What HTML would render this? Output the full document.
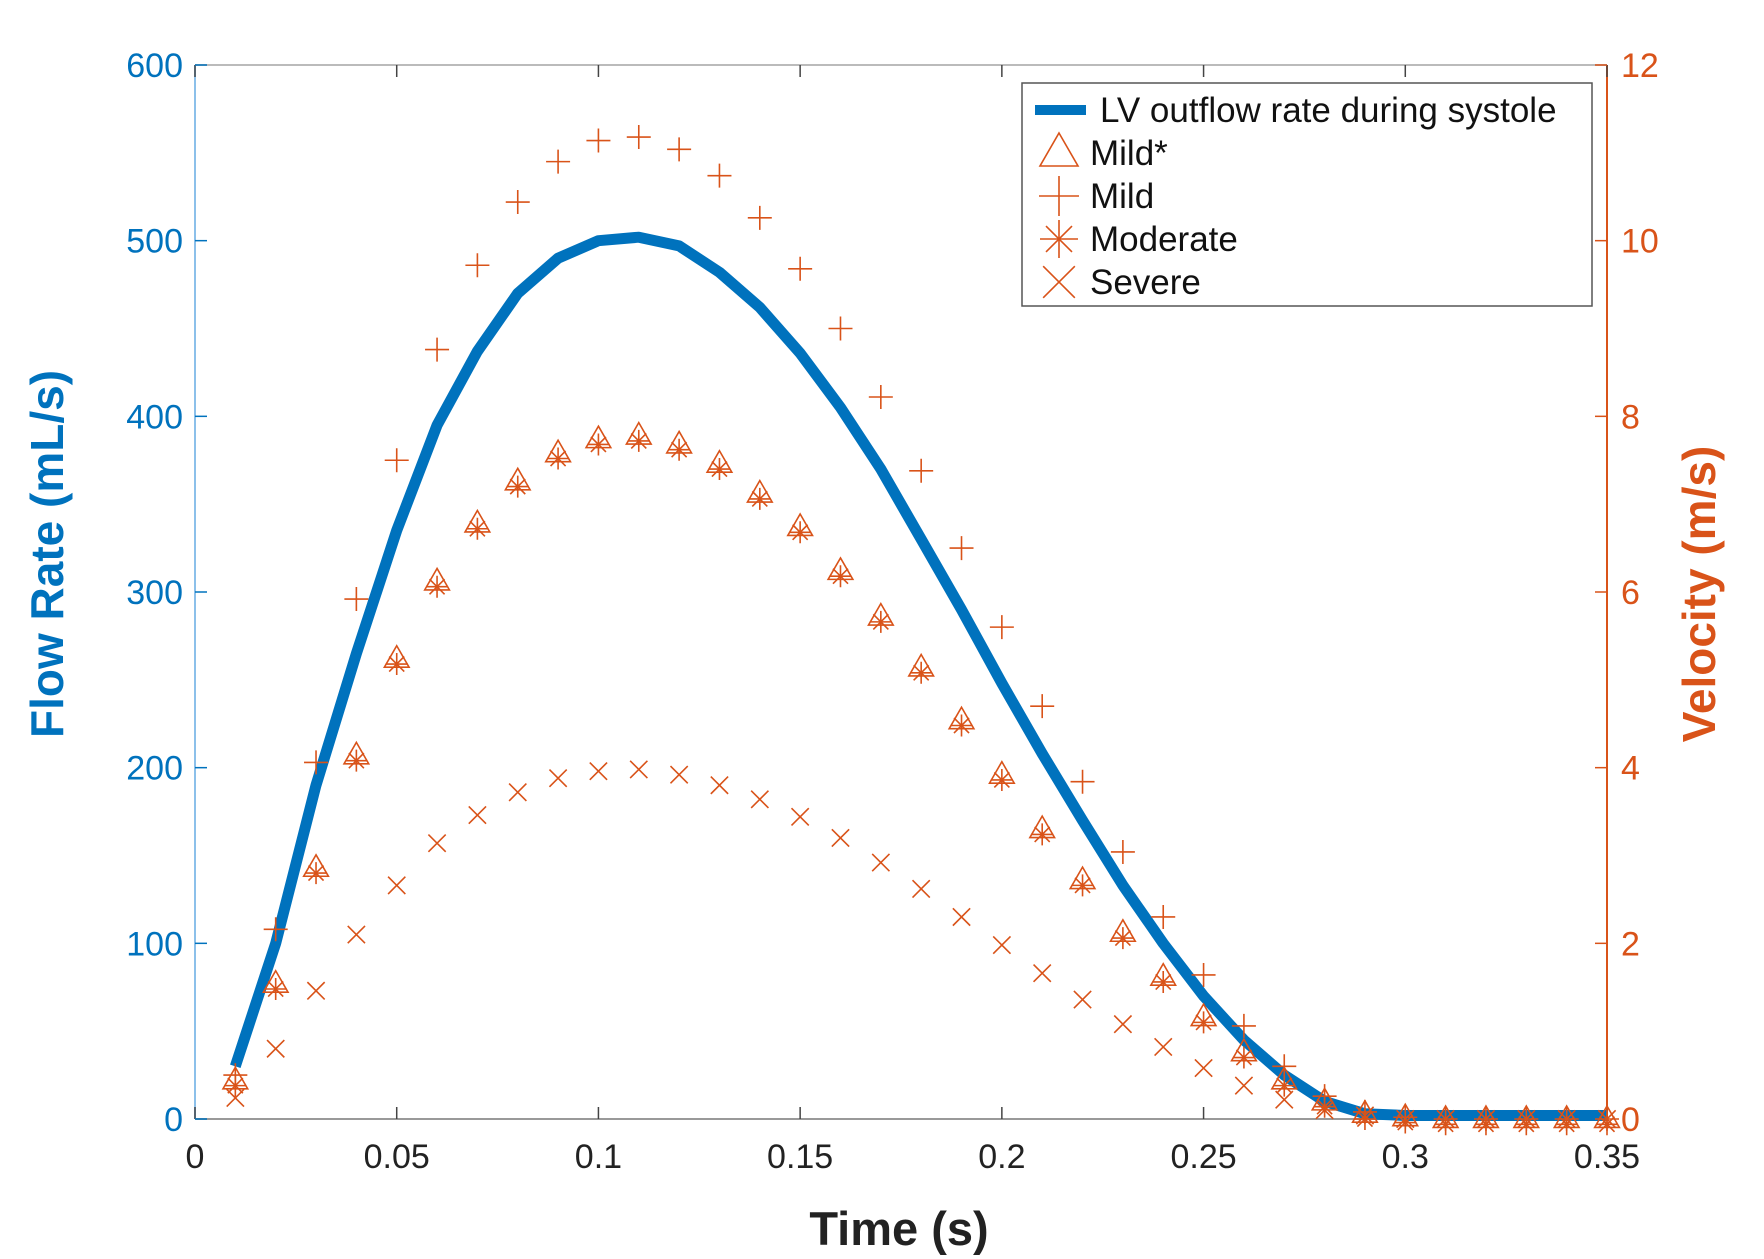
<!DOCTYPE html>
<html><head><meta charset="utf-8"><style>body{margin:0;background:#fff}svg{display:block}</style></head>
<body>
<svg id="s" width="1764" height="1259" xmlns="http://www.w3.org/2000/svg" font-family="Liberation Sans, Arial, sans-serif">
</svg>
<script>
const S=document.getElementById('s');
const L=195,R=1607,T=65,B=1119;
const X=t=>L+t/0.35*(R-L), Y=v=>B-v/600*(B-T);
let h='';
const BL='#0072BD',OR='#D95319';
h+=`<line x1="${L}" y1="${T}" x2="${R}" y2="${T}" stroke="#bbb" stroke-width="2"/>`;
h+=`<line x1="${L}" y1="${B}" x2="${R}" y2="${B}" stroke="#999" stroke-width="2"/>`;
h+=`<line x1="${L}" y1="${T}" x2="${L}" y2="${B}" stroke="#8cc0ea" stroke-width="2"/>`;
h+=`<line x1="${R}" y1="${T}" x2="${R}" y2="${B}" stroke="${OR}" stroke-width="2"/>`;
for(let i=0;i<=7;i++){const t=i*0.05,x=X(t);
 h+=`<line x1="${x}" y1="${B}" x2="${x}" y2="${B-12}" stroke="#444" stroke-width="1.5"/><line x1="${x}" y1="${T}" x2="${x}" y2="${T+12}" stroke="#444" stroke-width="1.5"/>`;
 h+=`<text x="${x}" y="${B+49}" font-size="34" fill="#222" text-anchor="middle">${i==0?'0':+t.toFixed(2)}</text>`;}
for(let i=0;i<=6;i++){const v=i*100,y=Y(v);
 h+=`<line x1="${L}" y1="${y}" x2="${L+12}" y2="${y}" stroke="${BL}" stroke-width="1.5"/><line x1="${R}" y1="${y}" x2="${R-12}" y2="${y}" stroke="${OR}" stroke-width="1.5"/>`;
 h+=`<text x="${L-12}" y="${y+12}" font-size="34" fill="${BL}" text-anchor="end">${v}</text>`;
 h+=`<text x="${R+14}" y="${y+12}" font-size="34" fill="${OR}">${i*2}</text>`;}
h+=`<text x="899" y="1245" font-size="47" font-weight="bold" fill="#222" text-anchor="middle">Time (s)</text>`;
h+=`<text transform="translate(63,554) rotate(-90)" font-size="46" font-weight="bold" fill="${BL}" text-anchor="middle">Flow Rate (mL/s)</text>`;
h+=`<text transform="translate(1715,594) rotate(-90)" font-size="46" font-weight="bold" fill="${OR}" text-anchor="middle">Velocity (m/s)</text>`;
const flow=[30,100,190,265,335,395,437,470,490,500,502,497,482,462,436,405,370,330,290,248,208,170,133,100,70,45,25,10,3,2,2,2,2,2,2];
const mild=[25,108,203,296,375,438,486,522,545,557,559,552,537,513,484,450,411,369,325,280,235,192,152,115,82,53,30,13,4,1,0,0,0,0,0];
const mstar=[22,77,143,207,262,306,339,363,379,387,389,384,373,356,337,312,286,257,227,196,165,136,106,81,58,38,22,10,3,1,0,0,0,0,0];
const sev=[12,40,73,105,133,157,173,186,194,198,199,196,190,182,172,160,146,131,115,99,83,68,54,41,29,19,11,5,2,0,0,0,0,0,0];
let d='';flow.forEach((v,i)=>{d+=(i?'L':'M')+X((i+1)*0.01).toFixed(1)+' '+Y(v).toFixed(1)});
h+=`<path d="${d}" fill="none" stroke="${BL}" stroke-width="11" stroke-linejoin="round"/>`;
const st=`stroke="${OR}" stroke-width="1.6" fill="none"`;
const plus=(x,y,r)=>`<path d="M${x-r} ${y}H${x+r}M${x} ${y-r}V${y+r}" ${st}/>`;
const cross=(x,y,r)=>{r*=0.72;return `<path d="M${x-r} ${y-r}L${x+r} ${y+r}M${x-r} ${y+r}L${x+r} ${y-r}" ${st}/>`};
const tri=(x,y,r)=>`<path d="M${x} ${y-r}L${x+r*0.95} ${y+r*0.65}L${x-r*0.95} ${y+r*0.65}Z" ${st}/>`;
const ast=(x,y,r)=>plus(x,y,r)+cross(x,y,r*0.95);
for(let i=0;i<35;i++){const x=X((i+1)*0.01);
 h+=plus(x,Y(mild[i]),12);
 h+=tri(x,Y(mstar[i]),13);
 h+=ast(x,Y(mstar[i]-3),11);
 h+=cross(x,Y(sev[i]),12);}
h+=`<rect x="1022" y="83" width="570" height="223" fill="#fff" stroke="#555" stroke-width="1.5"/>`;
h+=`<line x1="1035" y1="110" x2="1086" y2="110" stroke="${BL}" stroke-width="10"/>`;
h+=`<text x="1100" y="122" font-size="35" fill="#111">LV outflow rate during systole</text>`;
const ly=[153,196,239,282],ln=['Mild*','Mild','Moderate','Severe'];
h+=`<path d="M1059 ${ly[0]-20}L1078 ${ly[0]+13}L1040 ${ly[0]+13}Z" ${st}/>`;
h+=plus(1059,ly[1],20);h+=ast(1059,ly[2],19);h+=cross(1059,ly[3],22);
ln.forEach((t,i)=>h+=`<text x="1090" y="${ly[i]+12}" font-size="35" fill="#111">${t}</text>`);
S.innerHTML=h;
</script>
</body></html>
